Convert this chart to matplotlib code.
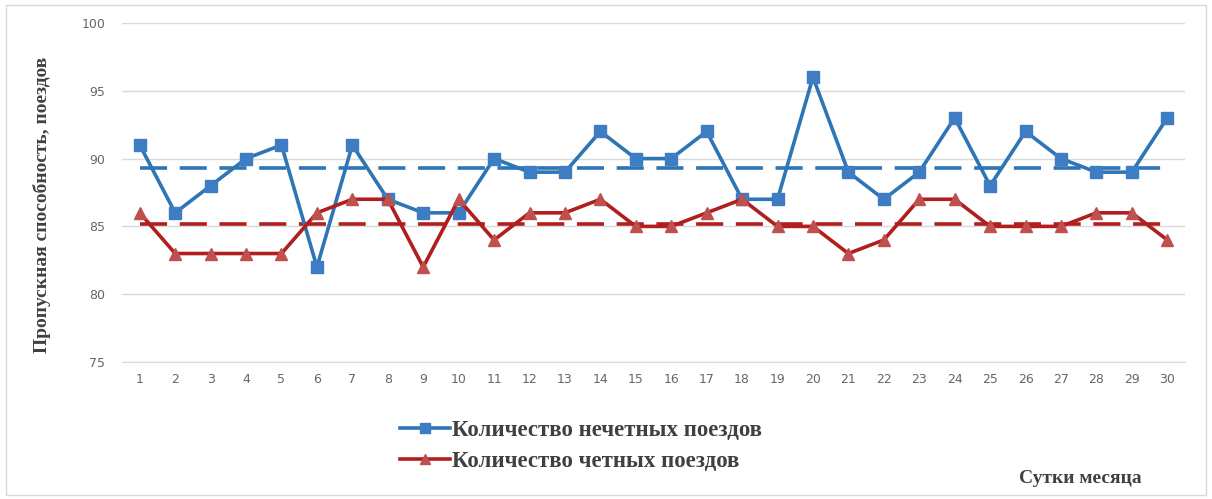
import numpy as np
import matplotlib

matplotlib.use("Agg")
import matplotlib.pyplot as plt
from matplotlib.patches import Rectangle

# ── Data: train throughput by day of month ────────────────────────────────
days = list(range(1, 31))
odd_trains = [91, 86, 88, 90, 91, 82, 91, 87, 86, 86,
              90, 89, 89, 92, 90, 90, 92, 87, 87, 96,
              89, 87, 89, 93, 88, 92, 90, 89, 89, 93]
even_trains = [86, 83, 83, 83, 83, 86, 87, 87, 82, 87,
               84, 86, 86, 87, 85, 85, 86, 87, 85, 85,
               83, 84, 87, 87, 85, 85, 85, 86, 86, 84]
y_ticks = [75, 80, 85, 90, 95, 100]

BLUE_LINE = "#2E75B6"
BLUE_MARK = "#3E7CC4"
RED_LINE = "#B01E1E"
RED_MARK = "#C0504D"
TEXT_DARK = "#404040"
SERIF = ["Liberation Serif", "DejaVu Serif"]

fig = plt.figure(figsize=(12.12, 4.99), dpi=100)
fig.patch.set_facecolor("white")
fig.add_artist(Rectangle((0.005, 0.008), 0.99, 0.982, transform=fig.transFigure,
                         fill=False, edgecolor="#D9D9D9", linewidth=1.0))

ax = fig.add_axes([0.1007, 0.2745, 0.877, 0.6795])

# mean levels as dashed reference lines
odd_mean = np.mean(odd_trains)
even_mean = np.mean(even_trains)
ax.plot([days[0], days[-1]], [odd_mean, odd_mean], color=BLUE_LINE,
        linewidth=2.6, linestyle=(0, (7.5, 3.5)), zorder=2)
ax.plot([days[0], days[-1]], [even_mean, even_mean], color=RED_LINE,
        linewidth=2.6, linestyle=(0, (7.5, 3.5)), zorder=2)

ax.plot(days, odd_trains, color=BLUE_LINE, linewidth=2.6, marker="s",
        markersize=9, markerfacecolor=BLUE_MARK, markeredgecolor=BLUE_MARK,
        label="Количество нечетных поездов", zorder=3)
ax.plot(days, even_trains, color=RED_LINE, linewidth=2.6, marker="^",
        markersize=9, markerfacecolor=RED_MARK, markeredgecolor=RED_MARK,
        label="Количество четных поездов", zorder=3)

ax.set_xlim(0.5, 30.5)
ax.set_ylim(75, 100)
ax.set_xticks(days)
ax.set_yticks(y_ticks)
ax.tick_params(axis="both", length=0, labelsize=9, labelcolor="#666666")
ax.tick_params(axis="x", pad=8)
ax.tick_params(axis="y", pad=12)
ax.grid(axis="y", color="#D9D9D9", linewidth=1.0)
ax.set_axisbelow(True)
for side in ("top", "right", "left"):
    ax.spines[side].set_visible(False)
ax.spines["bottom"].set_color("#D9D9D9")

fig.text(0.035, 0.589, "Пропускная способность, поездов", rotation=90,
         ha="center", va="center", family=SERIF, fontweight="bold",
         fontsize=14, color=TEXT_DARK)
fig.text(0.891, 0.042, "Сутки месяца", ha="center", va="center",
         family=SERIF, fontweight="bold", fontsize=14, color=TEXT_DARK)

leg = fig.legend(loc="center left", bbox_to_anchor=(0.313, 0.106),
                 frameon=False, handlelength=2.2, handletextpad=0.05,
                 labelspacing=0.43, markerscale=0.85,
                 prop={"family": SERIF, "weight": "bold", "size": 16.5})
for t in leg.get_texts():
    t.set_color(TEXT_DARK)

fig.savefig("out.png", dpi=100, facecolor="white")
